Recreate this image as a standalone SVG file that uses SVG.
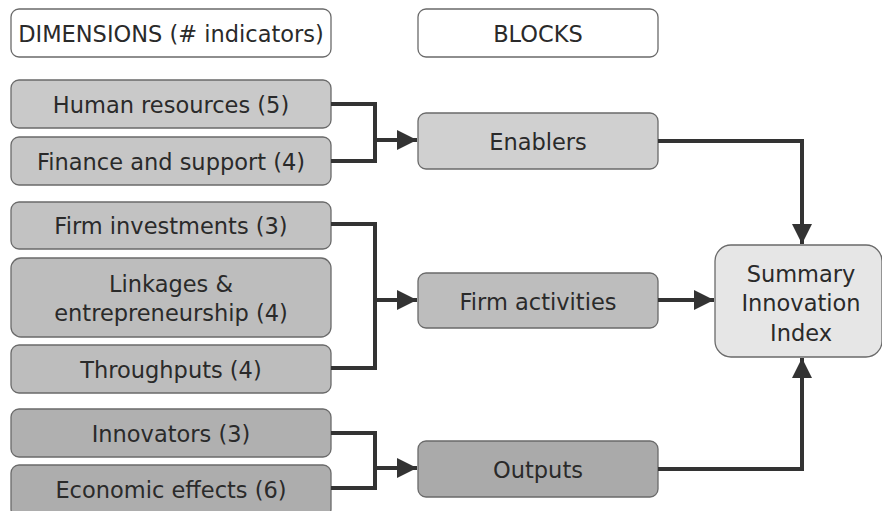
<svg xmlns="http://www.w3.org/2000/svg" width="882" height="511" viewBox="0 0 882 511">
<defs>
<style>
.box{stroke:#6a6a6a;stroke-width:1.3}
.t{font-family:"DejaVu Sans",Verdana,sans-serif;font-size:22.5px;fill:#2a2a2a;text-anchor:middle}
.c{fill:none;stroke:#333;stroke-width:4}
</style>
<marker id="ah" viewBox="0 0 10 10" refX="10" refY="5" markerWidth="5" markerHeight="5" markerUnits="strokeWidth" orient="auto">
<path d="M0,0 L10,5 L0,10 z" fill="#333"/>
</marker>
</defs>
<rect width="882" height="511" fill="#ffffff"/>
<g id="hdr-dimensions"><rect class="box" x="11" y="9" width="320" height="48" rx="8" fill="#fff"/><text class="t" x="171" y="42">DIMENSIONS (# indicators)</text></g>
<g id="hdr-blocks"><rect class="box" x="418" y="9" width="240" height="48" rx="8" fill="#fff"/><text class="t" x="538" y="42">BLOCKS</text></g>
<g id="human"><rect class="box" x="11" y="80" width="320" height="48" rx="8" fill="#c9c9c9"/><text class="t" x="171" y="113">Human resources (5)</text></g>
<g id="finance"><rect class="box" x="11" y="137" width="320" height="48" rx="8" fill="#c6c6c6"/><text class="t" x="171" y="170">Finance and support (4)</text></g>
<g id="firminv"><rect class="box" x="11" y="202" width="320" height="47" rx="8" fill="#c2c2c2"/><text class="t" x="171" y="234">Firm investments (3)</text></g>
<g id="linkages"><rect class="box" x="11" y="258" width="320" height="79" rx="10" fill="#bdbdbd"/><text class="t" x="171" y="292">Linkages &amp;</text><text class="t" x="171" y="321">entrepreneurship (4)</text></g>
<g id="throughputs"><rect class="box" x="11" y="345" width="320" height="48" rx="8" fill="#bdbdbd"/><text class="t" x="171" y="378">Throughputs (4)</text></g>
<g id="innovators"><rect class="box" x="11" y="409" width="320" height="48" rx="8" fill="#b0b0b0"/><text class="t" x="171" y="442">Innovators (3)</text></g>
<g id="economic"><rect class="box" x="11" y="465" width="320" height="52" rx="8" fill="#adadad"/><text class="t" x="171" y="498">Economic effects (6)</text></g>
<g id="enablers"><rect class="box" x="418" y="113" width="240" height="56" rx="8" fill="#d0d0d0"/><text class="t" x="538" y="150">Enablers</text></g>
<g id="firmact"><rect class="box" x="418" y="273" width="240" height="55" rx="8" fill="#bdbdbd"/><text class="t" x="538" y="310">Firm activities</text></g>
<g id="outputs"><rect class="box" x="418" y="441" width="240" height="56" rx="8" fill="#aaaaaa"/><text class="t" x="538" y="478">Outputs</text></g>
<g id="sii"><rect class="box" x="715" y="245" width="167" height="112" rx="16" fill="#e6e6e6"/><text class="t" x="801" y="282">Summary</text><text class="t" x="801" y="311">Innovation</text><text class="t" x="801" y="341">Index</text></g>
<g id="connectors">
<path class="c" d="M331,104 H375 V161 H331"/>
<path class="c" d="M375,140 H417" marker-end="url(#ah)"/>
<path class="c" d="M331,224 H375 V368 H331"/>
<path class="c" d="M375,300 H417" marker-end="url(#ah)"/>
<path class="c" d="M331,433 H375 V488 H331"/>
<path class="c" d="M375,468 H417" marker-end="url(#ah)"/>
<path class="c" d="M658,141 H802 V244" marker-end="url(#ah)"/>
<path class="c" d="M658,300 H714" marker-end="url(#ah)"/>
<path class="c" d="M658,469 H802 V358" marker-end="url(#ah)"/>
</g>
</svg>
